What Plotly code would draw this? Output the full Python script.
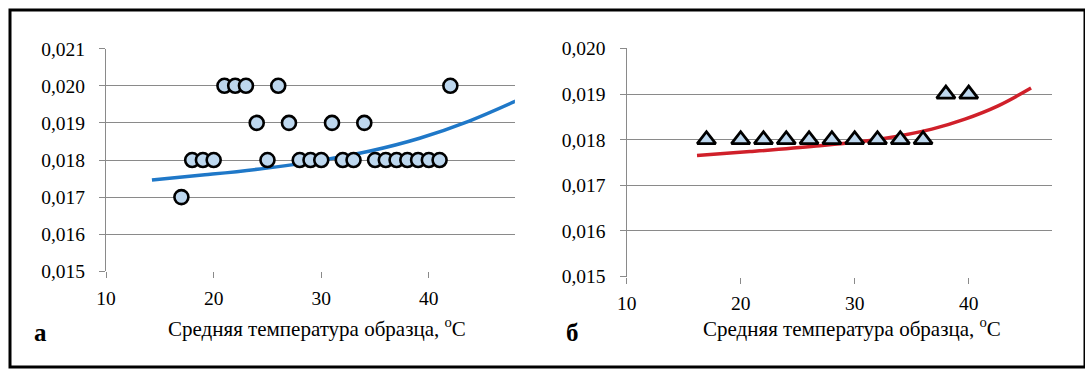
import plotly.graph_objects as go

# Panel a: measured points
temp_a = [17, 18, 19, 20, 21, 22, 23, 24, 25, 26, 27, 28, 29, 30, 31, 32, 33, 34, 35, 36, 37, 38, 39, 40, 41, 42]
val_a = [0.017, 0.018, 0.018, 0.018, 0.020, 0.020, 0.020, 0.019, 0.018, 0.020, 0.019, 0.018, 0.018, 0.018,
         0.019, 0.018, 0.018, 0.019, 0.018, 0.018, 0.018, 0.018, 0.018, 0.018, 0.018, 0.020]
# Panel a: trend curve
trend_a_x = [14.26, 19.18, 25.3, 29.93, 34.54, 39.14, 43.75, 48.36]
trend_a_y = [0.017461, 0.0176, 0.017795, 0.01799, 0.018243, 0.018588, 0.019049, 0.019625]

# Panel b: measured points
temp_b = [17, 20, 22, 24, 26, 28, 30, 32, 34, 36, 38, 40]
val_b = [0.018, 0.018, 0.018, 0.018, 0.018, 0.018, 0.018, 0.018, 0.018, 0.018, 0.019, 0.019]
# Panel b: trend curve
trend_b_x = [16.17, 20.82, 26.61, 32.42, 36.77, 39.67, 42.58, 45.47]
trend_b_y = [0.017655, 0.017739, 0.017861, 0.018023, 0.018232, 0.01845, 0.018741, 0.019131]

x_ticks = [10, 20, 30, 40]
y_ticks_a = [0.015, 0.016, 0.017, 0.018, 0.019, 0.020, 0.021]
y_ticks_b = [0.015, 0.016, 0.017, 0.018, 0.019, 0.020]
x_title = "Средняя температура образца, <sup>o</sup>C"

W, H = 1085, 378
FONT = "Times New Roman, Liberation Serif, DejaVu Serif, serif"
GRID = "#8a8a8a"

fig = go.Figure()

fig.add_trace(go.Scatter(x=trend_a_x, y=trend_a_y, mode="lines",
                         line=dict(color="#1f78c8", width=3.5, shape="spline", smoothing=1.0),
                         xaxis="x", yaxis="y", showlegend=False))
fig.add_trace(go.Scatter(x=temp_a, y=val_a, mode="markers",
                         marker=dict(symbol="circle", size=14, color="#bdd7ee", line=dict(color="black", width=2.6)),
                         xaxis="x", yaxis="y", showlegend=False, cliponaxis=False))
fig.add_trace(go.Scatter(x=trend_b_x, y=trend_b_y, mode="lines",
                         line=dict(color="#d0202a", width=3.5, shape="spline", smoothing=1.0),
                         xaxis="x2", yaxis="y2", showlegend=False))
fig.add_trace(go.Scatter(x=temp_b, y=val_b, mode="markers",
                         marker=dict(symbol="triangle-up", size=16, color="#bdd7ee", line=dict(color="black", width=2.8)),
                         xaxis="x2", yaxis="y2", showlegend=False, cliponaxis=False))

tickfont = dict(family=FONT, size=19.5, color="black")

def xax(domain, rng, anchor):
    return dict(domain=domain, range=rng, anchor=anchor, tickvals=x_ticks, showgrid=False, zeroline=False,
                showline=False, ticks="outside", ticklen=6, tickcolor=GRID, tickwidth=1.3,
                tickfont=tickfont, ticklabelstandoff=3, fixedrange=True)

def yax(domain, rng, anchor, vals):
    return dict(domain=domain, range=rng, anchor=anchor, tickvals=vals, tickformat=".3f",
                showgrid=True, gridcolor=GRID, gridwidth=1.3, zeroline=False,
                showline=True, linecolor=GRID, linewidth=1.3, ticks="outside", ticklen=6, tickcolor=GRID,
                tickwidth=1.3, tickfont=tickfont, ticklabelstandoff=10, fixedrange=True)

fig.update_layout(
    width=W, height=H, margin=dict(l=0, r=0, t=0, b=0),
    paper_bgcolor="white", plot_bgcolor="white", separators=", ",
    font=dict(family=FONT, color="black"),
    xaxis=xax([97 / W, 509.6 / W], [10, 48], "y"),
    yaxis=yax([1 - 276.7 / H, 1 - 41 / H], [0.015, 0.021], "x", y_ticks_a),
    xaxis2=xax([622.4 / W, 1051.6 / W], [10, 47.3], "y2"),
    yaxis2=yax([1 - 282.3 / H, 1 - 40.7 / H], [0.015, 0.020], "x2", y_ticks_b),
    annotations=[
        dict(text=x_title, x=309.6 / W, y=1 - 336.7 / H, xref="paper", yref="paper", showarrow=False,
             xanchor="center", yanchor="middle", font=dict(family=FONT, size=21, color="black")),
        dict(text=x_title, x=850 / W, y=1 - 336.7 / H, xref="paper", yref="paper", showarrow=False,
             xanchor="center", yanchor="middle", font=dict(family=FONT, size=21, color="black")),
        dict(text="<b>а</b>", x=31 / W, y=1 - 341 / H, xref="paper", yref="paper", showarrow=False,
             xanchor="center", yanchor="middle", font=dict(family=FONT, size=25, color="black")),
        dict(text="<b>б</b>", x=568 / W, y=1 - 341 / H, xref="paper", yref="paper", showarrow=False,
             xanchor="center", yanchor="middle", font=dict(family=FONT, size=25, color="black")),
    ],
    shapes=[dict(type="rect", xref="paper", yref="paper", x0=0, x1=1, y0=0, y1=1,
                 line=dict(color="black", width=3), fillcolor="rgba(0,0,0,0)", layer="above")],
)

fig.write_html("out.html", config={"displayModeBar": False},
               post_script="document.body.style.margin='0';document.body.style.padding='0';"
                           "document.documentElement.style.overflow='hidden';")
